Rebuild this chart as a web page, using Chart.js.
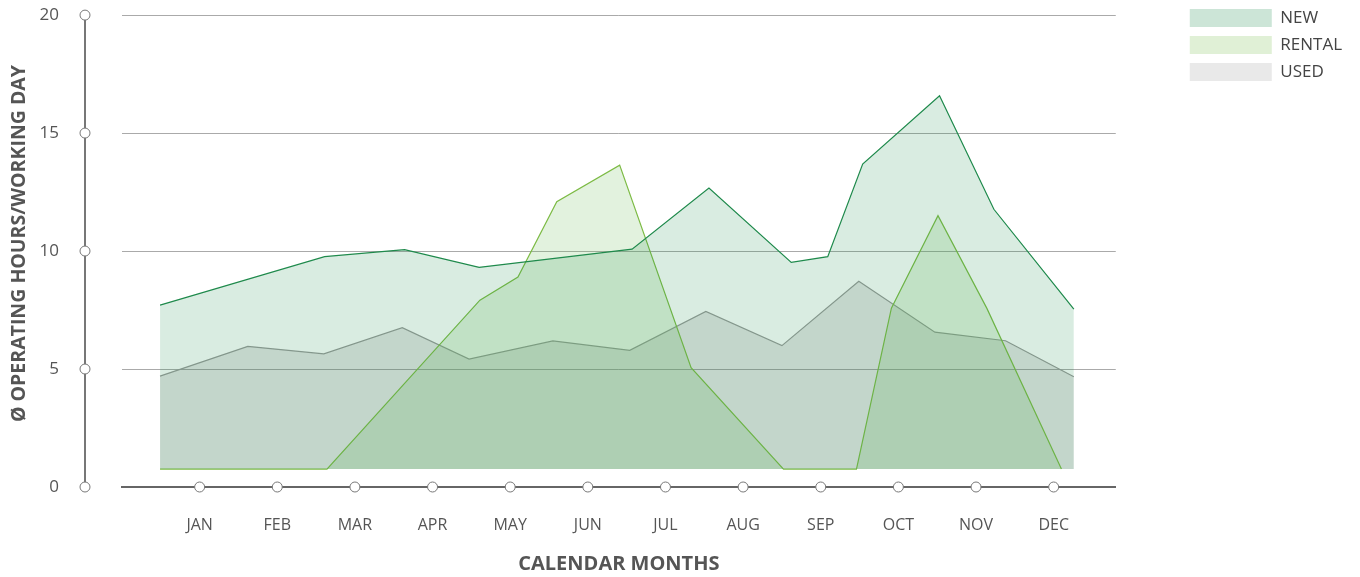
<!DOCTYPE html>
<html>
<head>
<meta charset="utf-8">
<script src="https://cdn.jsdelivr.net/npm/chart.js@4.4.1/dist/chart.umd.min.js"></script>
<style>
  html, body { margin: 0; padding: 0; background: #fff; }
  #wrap { width: 1360px; height: 577px; }
</style>
</head>
<body>
<div id="wrap"><canvas id="hours" width="1360" height="577"></canvas></div>
<script>
// month labels sit on the integer positions 1..12 of the x axis
const months = ["JAN", "FEB", "MAR", "APR", "MAY", "JUN", "JUL", "AUG", "SEP", "OCT", "NOV", "DEC"];
const yTicks = [0, 5, 10, 15, 20];
const floorValue = 0.76;

// NEW
const newPos = [0.49, 2.61, 3.64, 4.60, 6.57, 7.56, 8.62, 9.09, 9.54, 10.53, 11.23, 12.26];
const newHours = [7.71, 9.76, 10.06, 9.31, 10.08, 12.67, 9.52, 9.76, 13.69, 16.58, 11.77, 7.54];

// RENTAL
const rentalPos = [0.49, 2.64, 4.61, 5.10, 5.60, 6.41, 7.33, 8.52, 9.46, 9.91, 10.51, 11.14, 12.10];
const rentalHours = [0.76, 0.76, 7.92, 8.90, 12.09, 13.64, 5.06, 0.76, 0.76, 7.58, 11.50, 7.57, 0.76];

// USED
const usedPos = [0.49, 1.62, 2.60, 3.61, 4.47, 5.55, 6.54, 7.52, 8.50, 9.49, 10.47, 11.38, 12.26];
const usedHours = [4.70, 5.96, 5.64, 6.75, 5.42, 6.19, 5.79, 7.44, 5.99, 8.72, 6.56, 6.20, 4.67];

const toPoints = (xs, ys) => xs.map((x, i) => ({ x: x, y: ys[i] }));
const swatches = ["#cce5d7", "#e0f0d6", "#e9e9e9"];

Chart.defaults.font.family = "'Open Sans', sans-serif";

// axis line + the little open circles on every tick
const axisMarks = {
  id: 'axisMarks',
  afterDraw(chart) {
    const { ctx, chartArea, scales: { x, y } } = chart;
    const ax = chartArea.left - 37;
    ctx.save();
    ctx.strokeStyle = '#777';
    ctx.lineWidth = 2;
    ctx.beginPath();
    ctx.moveTo(ax, y.getPixelForValue(yTicks[yTicks.length - 1]));
    ctx.lineTo(ax, y.getPixelForValue(0));
    ctx.stroke();
    ctx.lineWidth = 1;
    ctx.fillStyle = '#fff';
    const dot = (px, py) => {
      ctx.beginPath();
      ctx.arc(px, py, 5, 0, Math.PI * 2);
      ctx.fill();
      ctx.stroke();
    };
    yTicks.forEach(v => dot(ax, y.getPixelForValue(v)));
    months.forEach((m, i) => dot(x.getPixelForValue(i + 1), chartArea.bottom));
    ctx.restore();
  }
};

new Chart(document.getElementById("hours"), {
  type: 'line',
  data: {
    datasets: [
      {
        label: "NEW",
        data: toPoints(newPos, newHours),
        borderColor: "#1f8a4c",
        backgroundColor: "rgba(30,140,80,0.17)",
        borderWidth: 1.2,
        fill: { value: floorValue }
      },
      {
        label: "RENTAL",
        data: toPoints(rentalPos, rentalHours),
        borderColor: "#7dbb45",
        backgroundColor: "rgba(110,190,90,0.2)",
        borderWidth: 1.2,
        fill: { value: floorValue }
      },
      {
        label: "USED",
        data: toPoints(usedPos, usedHours),
        borderColor: "#999",
        backgroundColor: "rgba(128,128,128,0.21)",
        borderWidth: 1.2,
        fill: { value: floorValue }
      }
    ]
  },
  options: {
    responsive: false,
    animation: false,
    layout: { padding: { right: 8 } },
    elements: {
      point: { radius: 0 },
      line: { tension: 0 }
    },
    plugins: {
      tooltip: { enabled: false },
      legend: {
        position: 'right',
        align: 'start',
        labels: {
          boxWidth: 82,
          boxHeight: 18,
          padding: 9,
          color: '#444',
          font: { size: 17 },
          generateLabels(chart) {
            return Chart.defaults.plugins.legend.labels.generateLabels(chart).map((item, i) =>
              Object.assign(item, { fillStyle: swatches[i], strokeStyle: swatches[i], lineWidth: 0 }));
          }
        }
      }
    },
    scales: {
      x: {
        type: 'linear',
        min: 0,
        max: 12.8,
        grid: { display: false },
        border: { color: '#666', width: 2 },
        afterBuildTicks(s) { s.ticks = months.map((m, i) => ({ value: i + 1 })); },
        afterFit(s) { s.height = 90; },
        ticks: {
          autoSkip: false,
          maxRotation: 0,
          padding: 21,
          color: '#555',
          font: { size: 16 },
          callback: v => months[v - 1] || ''
        },
        title: {
          display: true,
          text: 'CALENDAR MONTHS',
          color: '#555',
          font: { size: 20, weight: 'bold' },
          padding: { top: 0, bottom: 1 }
        }
      },
      y: {
        min: 0,
        max: 20.64,
        border: { display: false },
        grid: { color: '#aaa', lineWidth: 1, drawTicks: false },
        afterBuildTicks(s) { s.ticks = yTicks.map(v => ({ value: v })); },
        afterFit(s) {
          s.width = 122;
          s.paddingTop = 0;
          s.paddingBottom = 0;
        },
        ticks: {
          padding: 63,
          color: '#555',
          font: { size: 17 },
          callback: v => v
        },
        title: {
          display: true,
          text: 'Ø OPERATING HOURS/WORKING DAY',
          color: '#555',
          font: { size: 19.5, weight: 'bold' },
          padding: { top: 8, bottom: 0 }
        }
      },
      spacer: {
        position: 'right',
        display: true,
        grid: { display: false },
        border: { display: false },
        ticks: { display: false },
        afterFit(s) {
          s.width = 65;
          s.paddingTop = 0;
          s.paddingBottom = 0;
        }
      }
    }
  },
  plugins: [axisMarks]
});
</script>
</body>
</html>
